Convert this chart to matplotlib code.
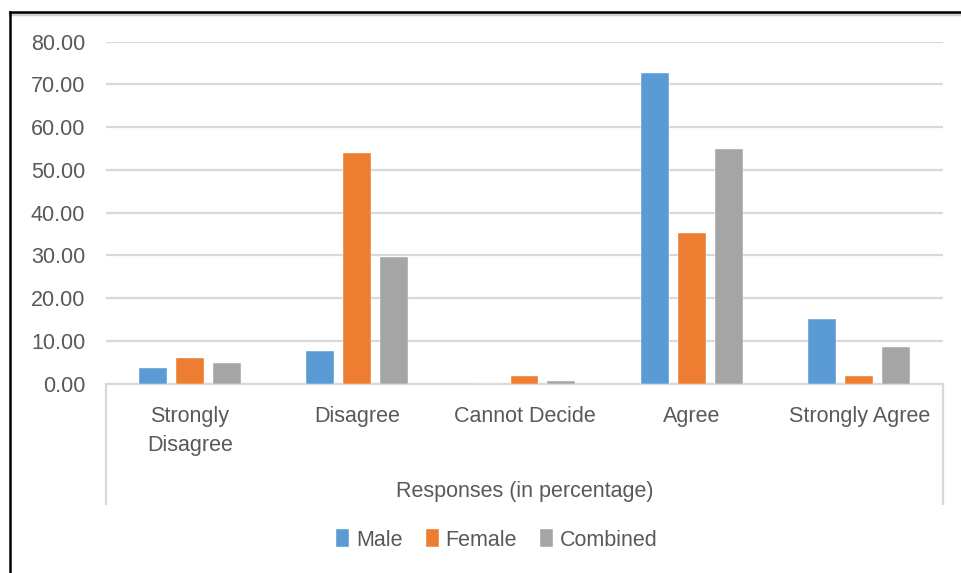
import numpy as np
import matplotlib
matplotlib.use('Agg')
import matplotlib.pyplot as plt
from matplotlib.lines import Line2D

# survey responses, percent
categories = ['Strongly\nDisagree', 'Disagree', 'Cannot Decide', 'Agree', 'Strongly Agree']
male = [3.6, 7.6, 0.0, 72.7, 15.0]
female = [6.0, 54.0, 1.8, 35.3, 1.8]
combined = [4.8, 29.7, 0.7, 55.0, 8.6]
series_names = ['Male', 'Female', 'Combined']
y_ticks = [0, 10, 20, 30, 40, 50, 60, 70, 80]

colors = ['#5B9BD5', '#ED7D31', '#A5A5A5']
text_color = '#595959'
grid_color = '#D9D9D9'
fs = 15.5

plt.rcParams['font.family'] = ['Liberation Sans', 'DejaVu Sans']

W, H = 961, 573
fig = plt.figure(figsize=(W / 100, H / 100), dpi=100)
ax = fig.add_axes([106 / W, 1 - 383.5 / H, (943 - 106) / W, (383.5 - 41.7) / H])

x = np.arange(len(categories))
pitch = 0.22
width = 0.167
for i, (vals, name) in enumerate(zip([male, female, combined], series_names)):
    ax.bar(x + (i - 1) * pitch, vals, width, color=colors[i], label=name,
           edgecolor='white', linewidth=0.3, zorder=3)

ax.set_xlim(-0.5, len(categories) - 0.5)
ax.set_ylim(0, 80)
ax.set_yticks(y_ticks)
ax.set_yticklabels(['%.2f' % v for v in y_ticks], fontsize=fs, color=text_color)
ax.tick_params(axis='y', length=0, pad=15)
ax.yaxis.grid(True, color=grid_color, linewidth=1.6, zorder=0)
ax.set_axisbelow(True)

ax.set_xticks(x)
ax.set_xticklabels(categories, fontsize=fs, color=text_color, linespacing=1.5)
ax.tick_params(axis='x', length=0, pad=16)

for side in ['top', 'right', 'left']:
    ax.spines[side].set_visible(False)
ax.spines['bottom'].set_color(grid_color)
ax.spines['bottom'].set_linewidth(1.6)

# category axis box edges
for px in [106, 943]:
    fig.add_artist(Line2D([px / W, px / W], [1 - 383.5 / H, 1 - 504 / H],
                          color=grid_color, linewidth=1.6))

fig.text(525 / W, 1 - 491 / H, 'Responses (in percentage)', fontsize=fs,
         color=text_color, ha='center', va='center')

handles, labels = ax.get_legend_handles_labels()
fig.legend(handles, labels, loc='center', bbox_to_anchor=(497 / W, 1 - 540 / H),
           ncol=3, frameon=False, fontsize=fs, labelcolor=text_color,
           handlelength=0.6, handleheight=0.9, handletextpad=0.3, columnspacing=1.1)

# outer frame (top and left edges)
fig.add_artist(Line2D([9.5 / W, 1.0], [1 - 13.5 / H, 1 - 13.5 / H], color='#D0D0D0', linewidth=2.5))
fig.add_artist(Line2D([9.5 / W, 1.0], [1 - 11.5 / H, 1 - 11.5 / H], color='black', linewidth=1.8))
fig.add_artist(Line2D([9.5 / W, 9.5 / W], [0, 1 - 11.5 / H], color='black', linewidth=1.8))

fig.savefig('out.png', dpi=100)
